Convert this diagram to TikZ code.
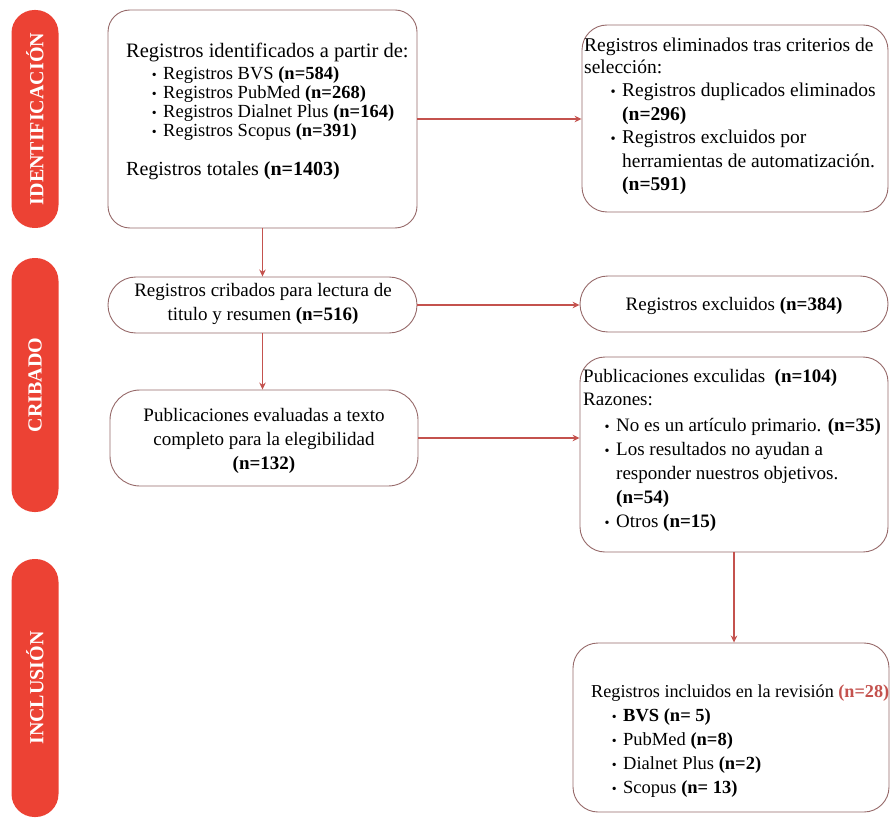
\documentclass[tikz,border=0pt]{standalone}
\usepackage{fontspec}
\setmainfont{Liberation Serif}
\usetikzlibrary{arrows.meta}
\definecolor{pillred}{RGB}{236,66,52}
\definecolor{arrowred}{RGB}{196,82,78}
\definecolor{boxline}{RGB}{150,105,105}
\definecolor{numred}{RGB}{196,82,78}
\newcommand{\bl}{\makebox[0pt][c]{\scalebox{0.75}{•}}\hspace{9pt}}
\newcommand{\ind}{\hspace*{9pt}}
\newcommand{\llines}[1]{\begin{tabular}[t]{@{}l@{}}#1\end{tabular}}
\newcommand{\clines}[1]{\begin{tabular}[t]{@{}c@{}}#1\end{tabular}}
\begin{document}
\begin{tikzpicture}[x=1pt,y=-1pt,
  pill/.style={fill=pillred, draw=none, rounded corners=23pt, rotate=90,
    minimum height=47pt, inner sep=0, text=white,
    font=\fontsize{20}{20}\selectfont\bfseries},
  box/.style={draw=boxline, line width=0.9pt, fill=white, inner sep=0},
  txt/.style={inner sep=0, anchor=base west},
  ctxt/.style={inner sep=0, anchor=base},
  arr/.style={draw=arrowred, line width=1.8pt, -{Stealth[length=7pt,width=6.5pt]}}]
\useasboundingbox (0,0) rectangle (893,818);

% phase pills
\node[pill, minimum width=218pt] (p1) at (35,119) {IDENTIFICACIÓN};
\node[pill, minimum width=254pt] (p2) at (35,385) {CRIBADO};
\node[pill, minimum width=258pt] (p3) at (35,688) {INCLUSIÓN};

% boxes
\node[box, minimum width=309pt, minimum height=218pt, rounded corners=22pt] (b1) at (262.5,119) {};
\node[box, minimum width=306pt, minimum height=187pt, rounded corners=25pt] (b2) at (735,118.5) {};
\node[box, minimum width=309pt, minimum height=56pt, rounded corners=27.9pt] (b3) at (262.5,305) {};
\node[box, minimum width=308pt, minimum height=96pt, rounded corners=30pt] (b4) at (264,438) {};
\node[box, minimum width=308pt, minimum height=56pt, rounded corners=27.9pt] (b5) at (734,304) {};
\node[box, minimum width=308pt, minimum height=195pt, rounded corners=25pt] (b6) at (734,454.5) {};
\node[box, minimum width=316pt, minimum height=169pt, rounded corners=25pt] (b7) at (731,727.5) {};

% box 1 text
\node[txt, font=\fontsize{20.5}{22}\selectfont] (t1a) at (126,58) {Registros identificados a partir de:};
\node[txt, font=\fontsize{18.5}{19}\selectfont] (t1b) at (154,80) {\llines{\bl Registros BVS \textbf{(n=584)}\\
\bl Registros PubMed \textbf{(n=268)}\\
\bl Registros Dialnet Plus \textbf{(n=164)}\\
\bl Registros Scopus \textbf{(n=391)}}};
\node[txt, font=\fontsize{20}{22}\selectfont] (t1c) at (126,176) {Registros totales \textbf{(n=1403)}};

% box 2 text
\node[txt, font=\fontsize{19.5}{22}\selectfont] (t2a) at (584,52) {\llines{Registros eliminados tras criterios de\\selección:}};
\node[txt, font=\fontsize{19.5}{23.5}\selectfont] (t2b) at (613,97) {\llines{\bl Registros duplicados eliminados\\
\ind\textbf{(n=296)}\\
\bl Registros excluidos por\\
\ind herramientas de automatización.\\
\ind\textbf{(n=591)}}};

% box 3, 4, 5 text
\node[ctxt, font=\fontsize{19}{24}\selectfont] (t3) at (263,296) {\clines{Registros cribados para lectura de\\titulo y resumen \textbf{(n=516)}}};
\node[ctxt, font=\fontsize{19}{24}\selectfont] (t4) at (264,421) {\clines{Publicaciones evaluadas a texto\\completo para la elegibilidad\\\textbf{(n=132)}}};
\node[ctxt, font=\fontsize{19}{24}\selectfont] (t5) at (734,310) {Registros excluidos \textbf{(n=384)}};

% box 6 text
\node[txt, font=\fontsize{19}{23}\selectfont] (t6a) at (583,382) {\llines{Publicaciones exculidas \ \textbf{(n=104)}\\Razones:}};
\node[txt, font=\fontsize{19}{24.2}\selectfont] (t6b) at (607,431) {\llines{\bl No es un artículo primario. \textbf{(n=35)}\\
\bl Los resultados no ayudan a\\
\ind responder nuestros objetivos.\\
\ind\textbf{(n=54)}\\
\bl Otros \textbf{(n=15)}}};

% box 7 text
\node[txt, font=\fontsize{18.2}{24}\selectfont] (t7a) at (591,697) {Registros incluidos en la revisión {\color{numred}\textbf{(n=28)}}};
\node[txt, font=\fontsize{18.5}{24}\selectfont] (t7b) at (614,721) {\llines{\bl \textbf{BVS (n= 5)}\\
\bl PubMed \textbf{(n=8)}\\
\bl Dialnet Plus \textbf{(n=2)}\\
\bl Scopus \textbf{(n= 13)}}};

% connectors
\draw[arr] (b1.east) -- (b1.east -| b2.west);
\draw[arr] (b1.south) -- (b3.north);
\draw[arr] (b3.east) -- (b3.east -| b5.west);
\draw[arr] (b3.south) -- (b3.south |- b4.north);
\draw[arr] (b4.east) -- (b4.east -| b6.west);
\draw[arr] (b6.south) -- (b6.south |- b7.north);
\end{tikzpicture}
\end{document}
